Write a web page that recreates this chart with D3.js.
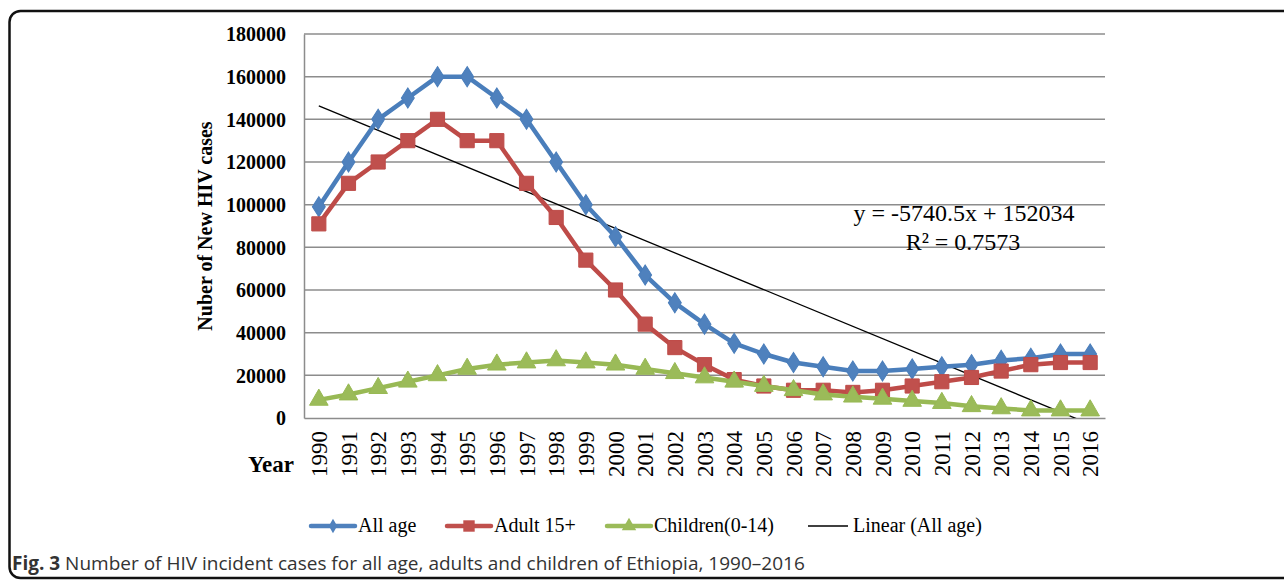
<!DOCTYPE html>
<meta charset="utf-8">
<style>
body { margin: 0; background: #fff; }
.serif { font-family: "Liberation Serif", "Times New Roman", serif; }
.grid line { stroke: #8c8c8c; stroke-width: 1.5; }
</style>
<body>
<script src="https://d3js.org/d3.v7.min.js"></script>
<script>

// data
var years = ["1990","1991","1992","1993","1994","1995","1996","1997","1998","1999","2000","2001","2002",
             "2003","2004","2005","2006","2007","2008","2009","2010","2011","2012","2013","2014","2015","2016"];
var allAge = [99000,120000,140000,150000,160000,160000,150000,140000,120000,100000,85000,67000,54000,
              44000,35000,30000,26000,24000,22000,22000,23000,24000,25000,27000,28000,30000,30000];
var adult = [91000,110000,120000,130000,140000,130000,130000,110000,94000,74000,60000,44000,33000,
             25000,18000,15000,13000,13000,12000,13000,15000,17000,19000,22000,25000,26000,26000];
var children = [8500,11000,14000,17000,20000,23000,25000,26000,27000,26000,25000,23000,21000,
                19000,17000,15000,13000,11000,10000,9000,8000,7000,5500,4500,3500,3500,3500];
var yTicks = [0,20000,40000,60000,80000,100000,120000,140000,160000,180000];
var trendSlope = -5740.5, trendIntercept = 152034;

var W = 1284, H = 580;
var plotL = 304, plotR = 1105, plotT = 34, plotB = 418;

var svg = d3.select("body").append("svg")
    .attr("width", W).attr("height", H);

// outer rounded frame
svg.append("rect")
    .attr("x", 9.5).attr("y", 11).attr("width", 1320).attr("height", 567)
    .attr("rx", 11).attr("fill", "none").attr("stroke", "#111").attr("stroke-width", 2.5);

var x = d3.scalePoint().domain(years).range([plotL, plotR]).padding(0.5);
var y = d3.scaleLinear().domain([0, 180000]).range([plotB, plotT]);

// grid lines
svg.append("g").attr("class", "grid")
    .selectAll("line").data(yTicks.slice(1)).enter().append("line")
    .attr("x1", plotL).attr("x2", plotR)
    .attr("y1", function(d) { return y(d); }).attr("y2", function(d) { return y(d); });

// axes
var yAxis = svg.append("g").attr("transform", "translate(" + plotL + ",0)")
    .call(d3.axisLeft(y).tickValues(yTicks).tickSize(0).tickPadding(18).tickFormat(d3.format("d")));
yAxis.select(".domain").attr("stroke", "#8c8c8c").attr("stroke-width", 1.5);
yAxis.selectAll("text").attr("class", "serif").attr("font-size", 20).attr("font-weight", "bold")
    .attr("fill", "#000").attr("dy", "0.34em");

var xAxis = svg.append("g").attr("transform", "translate(0," + plotB + ")")
    .call(d3.axisBottom(x).tickSize(0).tickPadding(0));
xAxis.select(".domain").attr("stroke", "#8c8c8c").attr("stroke-width", 1.5);
xAxis.selectAll("text").attr("class", "serif").attr("font-size", 23).attr("fill", "#000")
    .attr("text-anchor", "end")
    .attr("transform", "translate(0,13) rotate(-90)")
    .attr("x", 0).attr("y", 0).attr("dy", "0.34em");

// axis titles
svg.append("text").attr("class", "serif")
    .attr("transform", "translate(212,226) rotate(-90)")
    .attr("text-anchor", "middle").attr("font-size", 20).attr("font-weight", "bold")
    .text("Nuber of New HIV cases");
svg.append("text").attr("class", "serif")
    .attr("x", 271).attr("y", 472)
    .attr("text-anchor", "middle").attr("font-size", 23).attr("font-weight", "bold")
    .text("Year");

// trend line, clipped to plot area
svg.append("clipPath").attr("id", "plotclip").append("rect")
    .attr("x", plotL).attr("y", plotT).attr("width", plotR - plotL).attr("height", plotB - plotT);
var step = x.step();
svg.append("line")
    .attr("clip-path", "url(#plotclip)")
    .attr("x1", x(years[0])).attr("y1", y(trendSlope * 1 + trendIntercept))
    .attr("x2", x(years[0]) + (years.length - 1) * step)
    .attr("y2", y(trendSlope * years.length + trendIntercept))
    .attr("stroke", "#000").attr("stroke-width", 1.3);

var series = [
    {name: "All age", values: allAge, line: "#4a7ebb", fill: "#4f81bd", marker: d3.symbolDiamond, size: 130},
    {name: "Adult 15+", values: adult, line: "#be4b48", fill: "#c0504d", marker: d3.symbolSquare, size: 200},
    {name: "Children(0-14)", values: children, line: "#98b954", fill: "#9bbb59", marker: d3.symbolTriangle, size: 150}
];

var lineGen = d3.line()
    .x(function(d, i) { return x(years[i]); })
    .y(function(d) { return y(d); });

series.forEach(function(s) {
    svg.append("path").datum(s.values)
        .attr("d", lineGen)
        .attr("fill", "none").attr("stroke", s.line).attr("stroke-width", 4.5)
        .attr("stroke-linejoin", "round");
    svg.selectAll(null).data(s.values).enter().append("path")
        .attr("d", d3.symbol().type(s.marker).size(s.size))
        .attr("transform", function(d, i) {
            return "translate(" + x(years[i]) + "," + y(d) + ")" + (s.marker === d3.symbolDiamond ? " scale(1.05,0.95)" : "");
        })
        .attr("fill", s.fill).attr("stroke", s.line).attr("stroke-width", 1);
});

// equation
svg.append("text").attr("class", "serif")
    .attr("x", 964).attr("y", 221).attr("text-anchor", "middle").attr("font-size", 24)
    .text("y = -5740.5x + 152034");
svg.append("text").attr("class", "serif")
    .attr("x", 963).attr("y", 250).attr("text-anchor", "middle").attr("font-size", 24)
    .text("R² = 0.7573");

// legend
var legendItems = [
    {name: "All age", color: "#4f81bd", marker: d3.symbolDiamond, size: 60, x: 311},
    {name: "Adult 15+", color: "#c0504d", marker: d3.symbolSquare, size: 130, x: 447},
    {name: "Children(0-14)", color: "#9bbb59", marker: d3.symbolTriangle, size: 90, x: 607},
    {name: "Linear (All age)", color: "#000", marker: null, size: 0, x: 808}
];
var legendY = 526;
var lg = svg.selectAll(".legend").data(legendItems).enter().append("g")
    .attr("transform", function(d) { return "translate(" + d.x + "," + legendY + ")"; });
lg.append("line").attr("x1", 0).attr("x2", function(d) { return d.marker ? 44 : 40; })
    .attr("stroke", function(d) { return d.color; })
    .attr("stroke-width", function(d) { return d.marker ? 4.5 : 1.5; })
    .attr("stroke-linecap", function(d) { return d.marker ? "round" : "butt"; });
lg.filter(function(d) { return d.marker; }).append("path")
    .attr("d", function(d) { return d3.symbol().type(d.marker).size(d.size)(); })
    .attr("transform", "translate(22,0)")
    .attr("fill", function(d) { return d.color; });
lg.append("text").attr("class", "serif")
    .attr("x", function(d) { return d.marker ? 47 : 45; }).attr("dy", "0.32em")
    .attr("font-size", 20)
    .text(function(d) { return d.name; });

// caption
var cap = svg.append("text").attr("x", 12).attr("y", 570)
    .attr("font-family", "'Open Sans', 'Noto Sans', sans-serif").attr("font-size", 19).attr("fill", "#333");
cap.append("tspan").attr("font-weight", "bold").text("Fig. 3");
cap.append("tspan").text(" Number of HIV incident cases for all age, adults and children of Ethiopia, 1990\u20132016");

</script>
</body>
